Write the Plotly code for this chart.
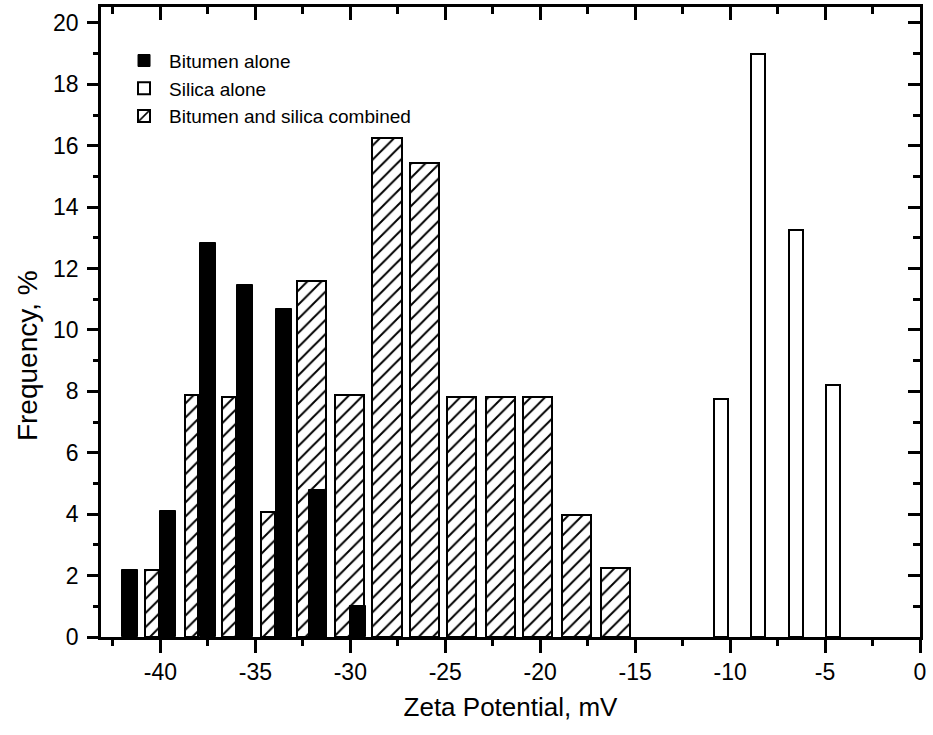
import plotly.graph_objects as go

# ---------------- data ----------------
bitumen_x = [-41.59, -39.58, -37.49, -35.57, -33.49, -31.74, -29.61]
bitumen_y = [2.19, 4.12, 12.83, 11.45, 10.69, 4.78, 1.0]

silica_x = [-10.48, -8.54, -6.51, -4.57]
silica_y = [7.76, 19.0, 13.27, 8.22]

combined_x = [-40.43, -38.36, -36.39, -34.32, -32.04, -30.03, -28.07,
              -26.08, -24.15, -22.09, -20.13, -18.10, -16.03]
combined_y = [2.19, 7.89, 7.81, 4.07, 11.58, 7.89, 16.25,
              15.44, 7.81, 7.81, 7.81, 3.98, 2.25]

series_names = ["Bitumen alone", "Silica alone", "Bitumen and silica combined"]
x_tick_vals = [-40, -35, -30, -25, -20, -15, -10, -5, 0]
x_tick_text = ["-40", "-35", "-30", "-25", "-20", "-15", "-10", "-5", "0"]
y_tick_vals = [0, 2, 4, 6, 8, 10, 12, 14, 16, 18, 20]
y_tick_text = ["0", "2", "4", "6", "8", "10", "12", "14", "16", "18", "20"]
x_title = "Zeta Potential, mV"
y_title = "Frequency, %"

# ---------------- style ----------------
FONT = "Liberation Sans, Arial, sans-serif"
combined_widths = [0.72, 0.72, 0.72, 0.72] + [1.55] * 9
X_RANGE = [-43.13, 0]
Y_RANGE = [0, 20.52]
AXW = 2.5

fig = go.Figure()

fig.add_trace(go.Bar(
    x=combined_x, y=combined_y, width=combined_widths,
    name=series_names[2],
    marker=dict(color="white",
                line=dict(color="black", width=2),
                pattern=dict(shape="/", fgcolor="black", bgcolor="white",
                             fgopacity=1, size=10, solidity=0.2)),
    legendrank=3,
))
fig.add_trace(go.Bar(
    x=bitumen_x, y=bitumen_y, width=0.84,
    name=series_names[0],
    marker=dict(color="black", line=dict(color="black", width=1)),
    legendrank=1,
))
fig.add_trace(go.Bar(
    x=silica_x, y=silica_y, width=0.74,
    name=series_names[1],
    marker=dict(color="white", line=dict(color="black", width=2)),
    legendrank=2,
))
# dummy trace to activate the mirrored (inside-tick) axes
fig.add_trace(go.Scatter(x=[None], y=[None], xaxis="x2", yaxis="y2",
                         showlegend=False, hoverinfo="skip"))

common = dict(showgrid=False, zeroline=False, showline=True,
              linecolor="black", linewidth=AXW, tickcolor="black",
              tickwidth=AXW)

fig.update_layout(
    width=933, height=735,
    margin=dict(l=101, r=8.5, t=7, b=98),
    paper_bgcolor="white", plot_bgcolor="white",
    barmode="overlay", bargap=0,
    font=dict(family=FONT, color="black"),
    showlegend=True,
    legend=dict(x=0.022, y=0.945, xanchor="left", yanchor="top",
                bgcolor="rgba(0,0,0,0)", font=dict(size=19, family=FONT),
                tracegroupgap=0, itemwidth=40),
    xaxis=dict(range=X_RANGE, tickvals=x_tick_vals, ticktext=x_tick_text,
               ticks="outside", ticklen=13,
               tickfont=dict(size=23, family=FONT),
               minor=dict(dtick=2.5, tick0=0, ticks="outside", ticklen=6,
                          tickwidth=AXW, tickcolor="black"),
               title=dict(text=x_title,
                          font=dict(size=26, family=FONT), standoff=14),
               **common),
    yaxis=dict(range=Y_RANGE, tickvals=y_tick_vals, ticktext=y_tick_text,
               ticks="outside", ticklen=11, ticklabelstandoff=4,
               tickfont=dict(size=23, family=FONT),
               minor=dict(dtick=1, tick0=0, ticks="outside", ticklen=5,
                          tickwidth=AXW, tickcolor="black"),
               **common),
    xaxis2=dict(range=X_RANGE, overlaying="x", side="top", anchor="y2",
                tickvals=x_tick_vals, ticks="inside", ticklen=13,
                showticklabels=False,
                minor=dict(dtick=2.5, tick0=0, ticks="inside", ticklen=7,
                           tickwidth=AXW, tickcolor="black"),
                **common),
    yaxis2=dict(range=Y_RANGE, overlaying="y", side="right", anchor="x2",
                tickvals=y_tick_vals, ticks="inside", ticklen=12,
                showticklabels=False,
                minor=dict(dtick=1, tick0=0, ticks="inside", ticklen=7,
                           tickwidth=AXW, tickcolor="black"),
                **common),
    annotations=[dict(text=y_title, xref="paper", yref="paper",
                      x=-0.0899, y=0.4465, xanchor="center", yanchor="middle",
                      textangle=-90, showarrow=False,
                      font=dict(size=28, family=FONT))],
)

fig.write_html("out.html")
